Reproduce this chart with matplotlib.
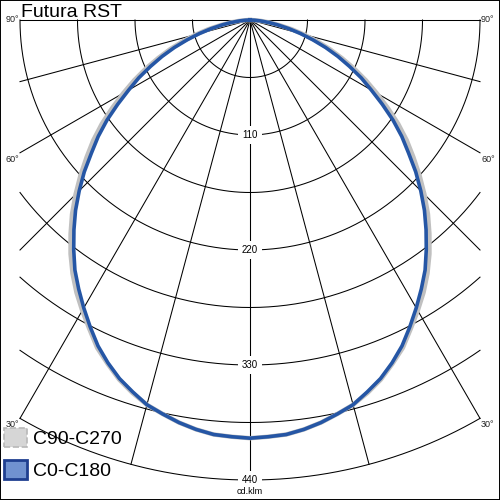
import numpy as np
import matplotlib.pyplot as plt
from matplotlib.patches import Patch

plt.rcParams['font.family'] = ['Liberation Sans', 'DejaVu Sans']

angles = [0, 2.5, 5, 7.5, 10, 12.5, 15, 17.5, 20, 22.5, 25, 27.5, 30, 32.5, 35, 37.5,
          40, 42.5, 45, 47.5, 50, 52.5, 55, 57.5, 60, 62.5, 65, 67.5, 70, 72.5, 75,
          77.5, 80, 82.5, 85, 87.5, 90]
c0_c180 = [400, 399, 398, 395, 391, 386, 381, 373, 365, 355, 344, 331, 318, 305, 292, 277,
           262, 247, 231, 215, 198, 183, 167, 150, 134, 120, 105, 91, 77, 63, 50,
           38, 27, 18, 10, 4, 0]
c90_c270 = [400, 399, 398, 395, 391, 386, 381, 374, 366, 356, 346, 333, 321, 309, 296, 282,
            267, 252, 236, 220, 204, 189, 173, 156, 140, 125, 110, 95, 81, 67, 53,
            41, 29, 19, 11, 5, 0]

ring_values = [55, 110, 165, 220, 275, 330, 385, 440]
ring_labels = [110, 220, 330, 440]
ray_angles = [0, 15, 30, 45, 60, 75, 90]
side_labels = [90, 60, 30]
title = 'Futura RST'
unit = 'cd.klm'
series_names = ['C90-C270', 'C0-C180']

r_max = 440
half_width = 220

fig = plt.figure(figsize=(5, 5), dpi=100)
ax = fig.add_axes([0, 0, 1, 1])
ax.set_xlim(-239.13, 239.13)
ax.set_ylim(-459.13, 19.13)
ax.set_aspect('equal')
ax.set_xticks([])
ax.set_yticks([])
for s in ax.spines.values():
    s.set_linewidth(1.4)

# Circulos
for r in ring_values:
    tmax = np.arcsin(min(1.0, half_width / r))
    t = np.linspace(-tmax, tmax, 300)
    ax.plot(r * np.sin(t), -r * np.cos(t), color='black', lw=0.75, zorder=1)

# Rayos
for a in ray_angles:
    th = np.radians(a)
    L = r_max if a == 0 else min(r_max, half_width / np.sin(th))
    for sgn in (-1, 1):
        ax.plot([0, sgn * L * np.sin(th)], [0, -L * np.cos(th)], color='black', lw=0.75, zorder=1)

# Curvas (simetricas)
th = np.radians(np.concatenate([-np.array(angles[::-1]), np.array(angles[1:])]))
g = np.array(c90_c270[::-1] + c90_c270[1:])
b = np.array(c0_c180[::-1] + c0_c180[1:])
ax.plot(g * np.sin(th), -g * np.cos(th), color='#c0c0c0', lw=3.2, zorder=2,
        solid_joinstyle='round')
ax.plot(b * np.sin(th), -b * np.cos(th), color='#2556a5', lw=2.6, zorder=3,
        solid_joinstyle='round')

# Etiquetas de circulos
for v in ring_labels:
    ax.text(0, -v, str(v), ha='center', va='center', fontsize=7, zorder=4,
            bbox=dict(facecolor='white', edgecolor='none', pad=3))
ax.text(0, -451, unit, ha='center', va='center', fontsize=6.5, zorder=4)

# Etiquetas de angulos
for a in side_labels:
    y = 0 if a == 90 else -half_width / np.tan(np.radians(a)) - 6
    ax.text(-half_width - 1, y, f'{a}°', ha='right', va='center', fontsize=6.5, color='#222222')
    ax.text(half_width + 1, y, f'{a}°', ha='left', va='center', fontsize=6.5, color='#222222')

ax.text(-219, 2.8, title, ha='left', va='baseline', fontsize=14)

handles = [Patch(facecolor='#d6d6d6', edgecolor='#b8b8b8', linestyle='--', lw=1.2),
           Patch(facecolor='#7092d0', edgecolor='#1f3f90', lw=2)]
leg = ax.legend(handles, series_names, loc='lower left', bbox_to_anchor=(0.008, 0.04),
                frameon=False, fontsize=14, handlelength=1.18, handleheight=1.18,
                handletextpad=0.3, labelspacing=0.6, borderaxespad=0, borderpad=0)
leg.set_zorder(5)

fig.savefig('out.png', dpi=100)
